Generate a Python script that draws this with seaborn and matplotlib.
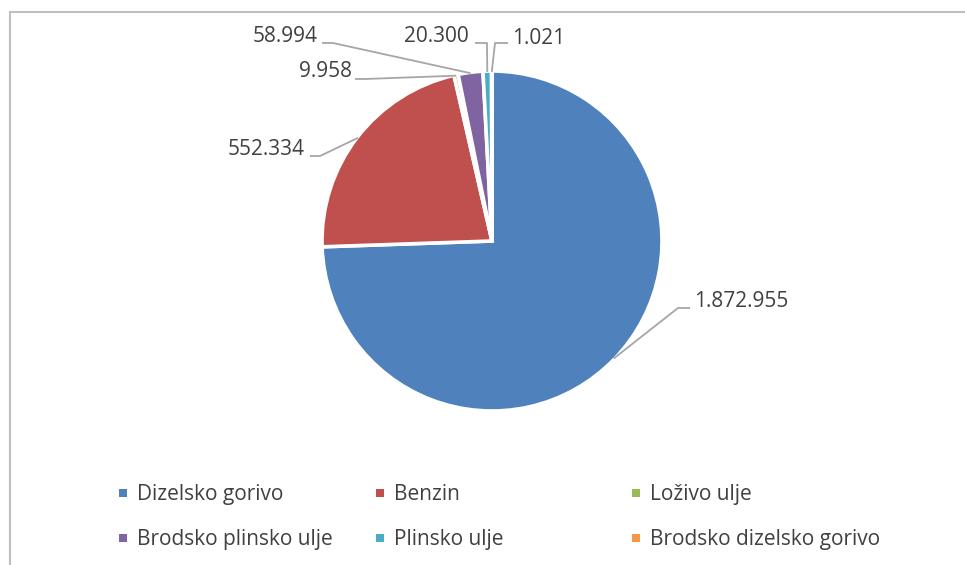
import numpy as np
import matplotlib.pyplot as plt
import seaborn as sns
from matplotlib.lines import Line2D

# data
categories = ["Dizelsko gorivo", "Benzin", "Loživo ulje",
              "Brodsko plinsko ulje", "Plinsko ulje", "Brodsko dizelsko gorivo"]
values = [1872955, 552334, 9958, 58994, 20300, 1021]
value_labels = ["1.872.955", "552.334", "9.958", "58.994", "20.300", "1.021"]
colors = ["#4F81BD", "#C0504D", "#9BBB59", "#8064A2", "#4BACC6", "#F79646"]

sns.set_theme(style="white")
plt.rcParams["font.family"] = ["Open Sans", "DejaVu Sans"]
txt_color = "#404040"
line_color = "#A6A6A6"

W, H = 965, 565
cx, cy, r = 492, 241, 170  # pie centre / radius in pixels

fig = plt.figure(figsize=(W / 100, H / 100), dpi=100)
ax = fig.add_axes([(cx - r) / W, 1 - (cy + r) / H, 2 * r / W, 2 * r / H])
wedges, _ = ax.pie(values, colors=colors, startangle=90, counterclock=False,
                   wedgeprops=dict(edgecolor="white", linewidth=2.6))
ax.set_xlim(-1, 1)
ax.set_ylim(-1, 1)
ax.set_aspect("equal")
ax.axis("off")


def to_data(px, py):
    return (px - cx) / r, (cy - py) / r


# label layout (pixels): text anchor, alignment, leader start, elbow
label_layout = [
    ((694, 302), "left", (690, 308), (678, 308)),
    ((305, 150), "right", (310, 156), (320, 156)),
    ((352, 72), "right", (355, 79), (365, 79)),
    ((318, 36), "right", (322, 43), (333, 43)),
    ((469, 36), "right", (475, 43), (487, 43)),
    ((512, 38), "left", (508, 43), (495, 43)),
]

for w, lab, (tpos, ha, start, elbow) in zip(wedges, value_labels, label_layout):
    mid = np.deg2rad((w.theta1 + w.theta2) / 2)
    px, py = np.cos(mid) * 0.995, np.sin(mid) * 0.995
    sx, sy = to_data(*start)
    ex, ey = to_data(*elbow)
    ax.plot([sx, ex, px], [sy, ey, py], color=line_color, lw=1.3,
            clip_on=False, solid_capstyle="butt")
    tx, ty = to_data(*tpos)
    ax.text(tx, ty, lab, ha=ha, va="center", fontsize=15, color=txt_color)

# legend: three columns, two rows
col_x = [118.5, 375.5, 631.5]
for i, x0 in enumerate(col_x):
    idx = [i, i + 3]
    handles = [Line2D([], [], marker="s", linestyle="", markersize=5.6,
                      markerfacecolor=colors[j], markeredgewidth=0) for j in idx]
    leg = fig.legend(handles, [categories[j] for j in idx], loc="center left",
                     bbox_to_anchor=(x0 / W, 1 - 517 / H), frameon=False,
                     fontsize=15, handlelength=0.4, handletextpad=0.48,
                     labelspacing=1.15, borderpad=0, borderaxespad=0)
    for t in leg.get_texts():
        t.set_color(txt_color)

# chart frame (left and top edges)
fig.add_artist(Line2D([9.5 / W, 9.5 / W], [0, 1 - 11.5 / H], color="#BFBFBF",
                      lw=1.5, transform=fig.transFigure))
fig.add_artist(Line2D([9.5 / W, 1], [1 - 11.5 / H, 1 - 11.5 / H], color="#BFBFBF",
                      lw=1.5, transform=fig.transFigure))

fig.savefig("out.png", dpi=100, facecolor="white")
